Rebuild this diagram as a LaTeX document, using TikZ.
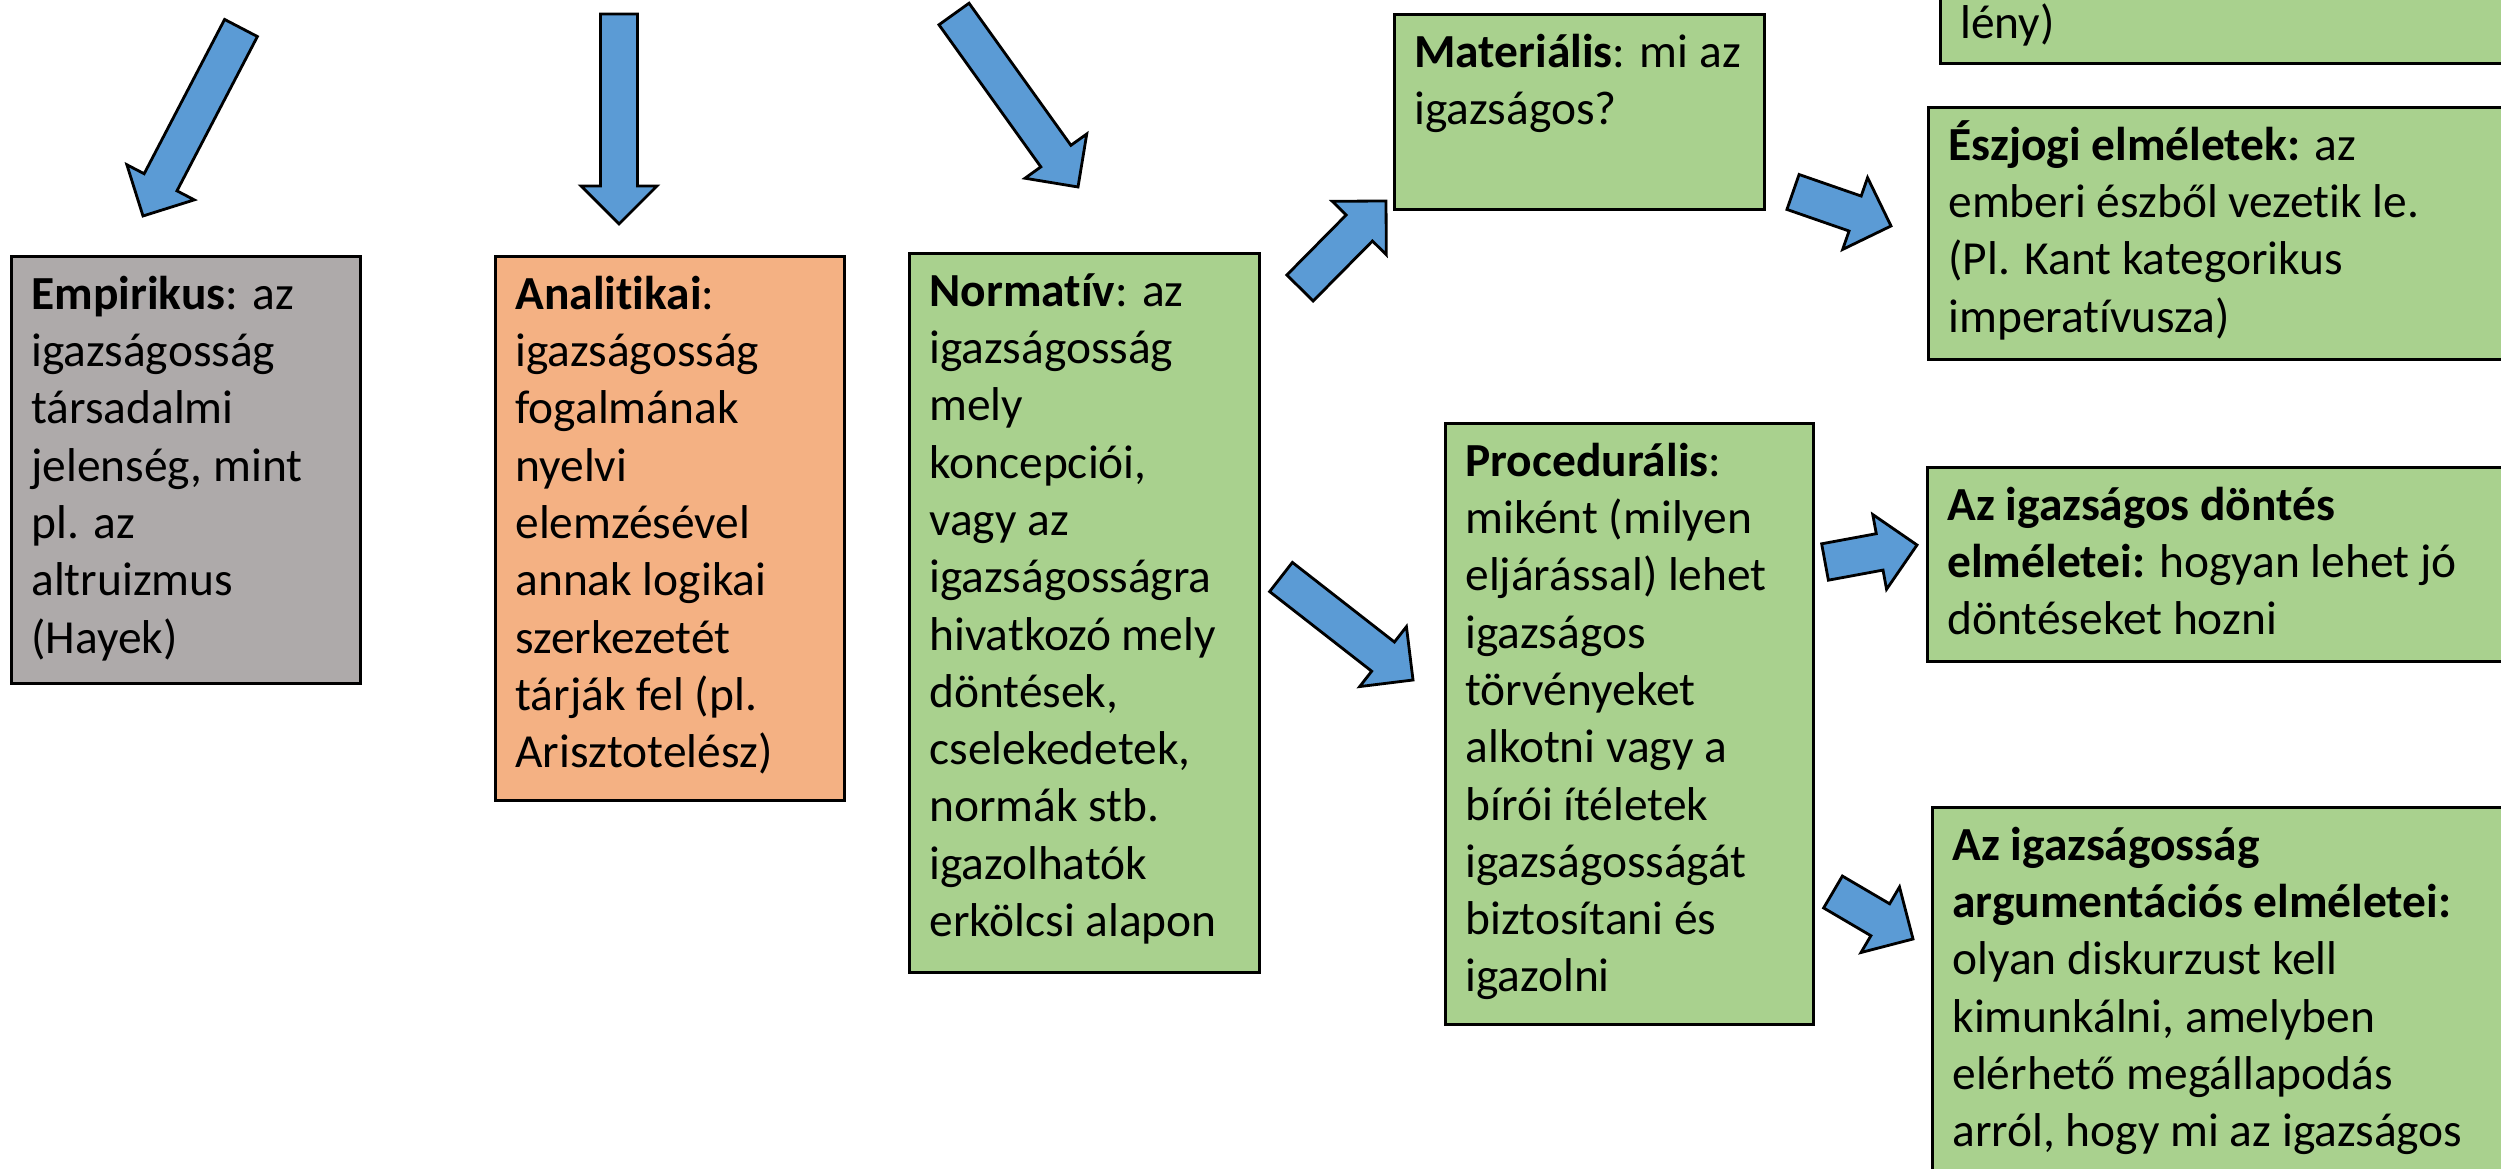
\documentclass[tikz,border=0pt]{standalone}
\usepackage{fontspec}
\setmainfont{Carlito}[Ligatures={NoCommon}]
\usetikzlibrary{calc}
\definecolor{empgray}{HTML}{AEAAAA}
\definecolor{anaorange}{HTML}{F4B183}
\definecolor{normgreen}{HTML}{A9D18E}
\definecolor{arrowblue}{HTML}{5B9BD5}
\newcommand{\cardbody}[3]{\parbox[t][#2][t]{#1}{\raggedright\rule{0pt}{5.3mm}#3}}
\newcommand{\blockarrow}[2]{%
  \coordinate (hb) at ($(#2)!3.8mm!(#1)$);
  \filldraw[blockarrow] ($(#1)!1.85mm!90:(#2)$) -- ($(hb)!1.85mm!90:(#2)$)
    -- ($(hb)!3.8mm!90:(#2)$) -- (#2) -- ($(hb)!3.8mm!-90:(#2)$)
    -- ($(hb)!1.85mm!-90:(#2)$) -- ($(#1)!1.85mm!-90:(#2)$) -- cycle;}

\begin{document}
\begin{tikzpicture}[x=0.1mm,y=-0.1mm]
            \tikzstyle{card}=[draw=black, line width=0.8pt, fill=normgreen, anchor=north west,
              inner xsep=2mm, inner ysep=0pt, font=\fontsize{13.5}{16.3}\selectfont]
            \tikzstyle{blockarrow}=[draw=black, line width=0.8pt, fill=arrowblue, line join=miter]
            \useasboundingbox (0,0) rectangle (2501,1169);
            \clip (0,0) rectangle (2501,1169);
            \node[card, fill=empgray] (emp) at (10,255) {\cardbody{30.9mm}{42.7mm}{%
              \textbf{Empirikus}: az\\ igazságosság\\ társadalmi\\ jelenség, mint\\ pl. az\\ altruizmus\\ (Hayek)}};
            \node[card, fill=anaorange] (ana) at (494,255) {\cardbody{30.9mm}{54.4mm}{%
              \textbf{Analitikai}:\\ igazságosság\\ fogalmának\\ nyelvi\\ elemzésével\\ annak logikai\\ szerkezetét\\ tárják fel (pl.\\ Arisztotelész)}};
            \node[card] (norm) at (908,252) {\cardbody{31mm}{71.9mm}{%
              \textbf{Normatív}: az\\ igazságosság\\ mely\\ koncepciói,\\ vagy az\\ igazságosságra\\ hivatkozó mely\\ döntések,\\ cselekedetek,\\ normák stb.\\ igazolhatók\\ erkölcsi alapon}};
            \node[card] (mat) at (1393,13) {\cardbody{33mm}{19.5mm}{%
              \textbf{Materiális}: mi az\\ igazságos?}};
            \node[card] (top) at (1939,-16) {\cardbody{66mm}{7.8mm}{lény)}};
            \node[card] (esz) at (1927,106) {\cardbody{66mm}{25.2mm}{%
              \textbf{Észjogi elméletek:} az\\ emberi észből vezetik le.\\ (Pl. Kant kategorikus\\ imperatívusza)}};
            \node[card] (proc) at (1444,422) {\cardbody{32.8mm}{60.1mm}{%
              \textbf{Procedurális}:\\ miként (milyen\\ eljárással) lehet\\ igazságos\\ törvényeket\\ alkotni vagy a\\ bírói ítéletek\\ igazságosságát\\ biztosítani és\\ igazolni}};
            \node[card] (dont) at (1926,466) {\cardbody{66mm}{19.4mm}{%
              \textbf{Az igazságos döntés}\\ \textbf{elméletei:} hogyan lehet jó\\ döntéseket hozni}};
            \node[card] (arg) at (1931,806) {\cardbody{66mm}{45mm}{%
              \textbf{Az igazságosság}\\ \textbf{argumentációs elméletei:}\\ olyan diskurzust kell\\ kimunkálni, amelyben\\ elérhető megállapodás\\ arról, hogy mi az igazságos}};
            \coordinate (emp-tail) at (241,28);
            \coordinate (emp-tip) at (143,216);
            \coordinate (ana-tail) at (619,14);
            \coordinate (ana-tip) at (619,224);
            \coordinate (norm-tail) at (954,14);
            \coordinate (norm-tip) at (1078,187);
            \coordinate (mat-tail) at (1300,288);
            \coordinate (mat-tip) at (1386,201);
            \coordinate (proc-tail) at (1281,577);
            \coordinate (proc-tip) at (1413,680);
            \coordinate (esz-tail) at (1793,192);
            \coordinate (esz-tip) at (1891,226);
            \coordinate (dont-tail) at (1825,562);
            \coordinate (dont-tip) at (1917,545);
            \coordinate (arg-tail) at (1833,892);
            \coordinate (arg-tip) at (1913,939);
            \blockarrow{emp-tail}{emp-tip}
            \blockarrow{ana-tail}{ana-tip}
            \blockarrow{norm-tail}{norm-tip}
            \blockarrow{mat-tail}{mat-tip}
            \blockarrow{proc-tail}{proc-tip}
            \blockarrow{esz-tail}{esz-tip}
            \blockarrow{dont-tail}{dont-tip}
            \blockarrow{arg-tail}{arg-tip}
        \end{tikzpicture}
\end{document}
